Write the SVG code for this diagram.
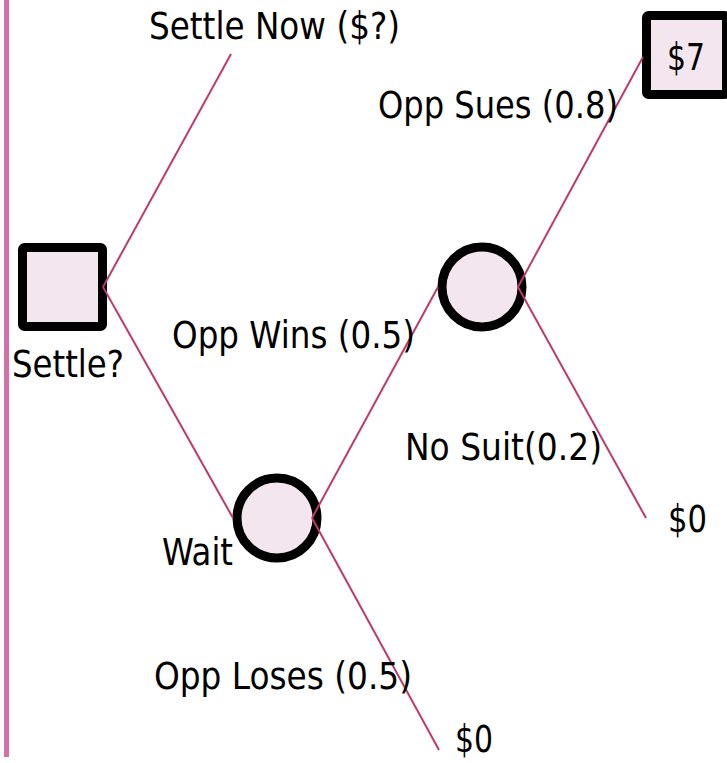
<svg xmlns="http://www.w3.org/2000/svg" width="727" height="763" viewBox="0 0 727 763">
  <style>
    .lbl { font-family: "DejaVu Sans Condensed", "DejaVu Sans", sans-serif; font-size: 37px; fill: #000; }
    .node { fill: #f4e6ee; stroke: #000; stroke-width: 9; }
    .edge { stroke: #c0396b; stroke-width: 2; fill: none; }
  </style>
  <rect width="727" height="763" fill="#fff"/>
  <!-- left margin rule -->
  <rect x="4" y="0" width="5" height="757" fill="#d46fa7"/>

  <!-- decision node -->
  <g id="settle">
    <rect class="node" x="22.5" y="247.5" width="80" height="79" rx="2"/>
    <text class="lbl" x="12" y="377" textLength="112" lengthAdjust="spacingAndGlyphs">Settle?</text>
  </g>

  <!-- outcome box -->
  <g id="payoff7">
    <rect class="node" x="646.5" y="15.5" width="80" height="79" rx="2"/>
    <text class="lbl" x="667" y="70" textLength="38" lengthAdjust="spacingAndGlyphs">$7</text>
  </g>

  <!-- chance nodes -->
  <g id="wait">
    <circle class="node" cx="277" cy="518" r="40"/>
    <text class="lbl" x="162" y="565" textLength="71" lengthAdjust="spacingAndGlyphs">Wait</text>
  </g>
  <g id="oppWins">
    <circle class="node" cx="482" cy="287" r="40"/>
  </g>

  <g id="settleNow">
    <text class="lbl" x="149" y="39" textLength="251" lengthAdjust="spacingAndGlyphs">Settle Now ($?)</text>
  </g>
  <g id="zeroNoSuit">
    <text class="lbl" x="668" y="532" textLength="39" lengthAdjust="spacingAndGlyphs">$0</text>
  </g>
  <g id="zeroLoses">
    <text class="lbl" x="455" y="752" textLength="38" lengthAdjust="spacingAndGlyphs">$0</text>
  </g>

  <!-- branches -->
  <g id="connectors">
    <line class="edge" x1="103" y1="287" x2="231" y2="54"/>
    <line class="edge" x1="103" y1="287" x2="233" y2="518"/>
    <line class="edge" x1="312" y1="518" x2="438" y2="287"/>
    <line class="edge" x1="312" y1="518" x2="439" y2="750"/>
    <line class="edge" x1="518" y1="287" x2="643" y2="57"/>
    <line class="edge" x1="518" y1="287" x2="646" y2="518"/>
  </g>

  <!-- branch labels -->
  <g id="branch-labels">
    <text class="lbl" x="378" y="118" textLength="240" lengthAdjust="spacingAndGlyphs">Opp Sues (0.8)</text>
    <text class="lbl" x="172" y="348" textLength="243" lengthAdjust="spacingAndGlyphs">Opp Wins (0.5)</text>
    <text class="lbl" x="405" y="460" textLength="197" lengthAdjust="spacingAndGlyphs">No Suit(0.2)</text>
    <text class="lbl" x="154" y="689" textLength="258" lengthAdjust="spacingAndGlyphs">Opp Loses (0.5)</text>
  </g>
</svg>
